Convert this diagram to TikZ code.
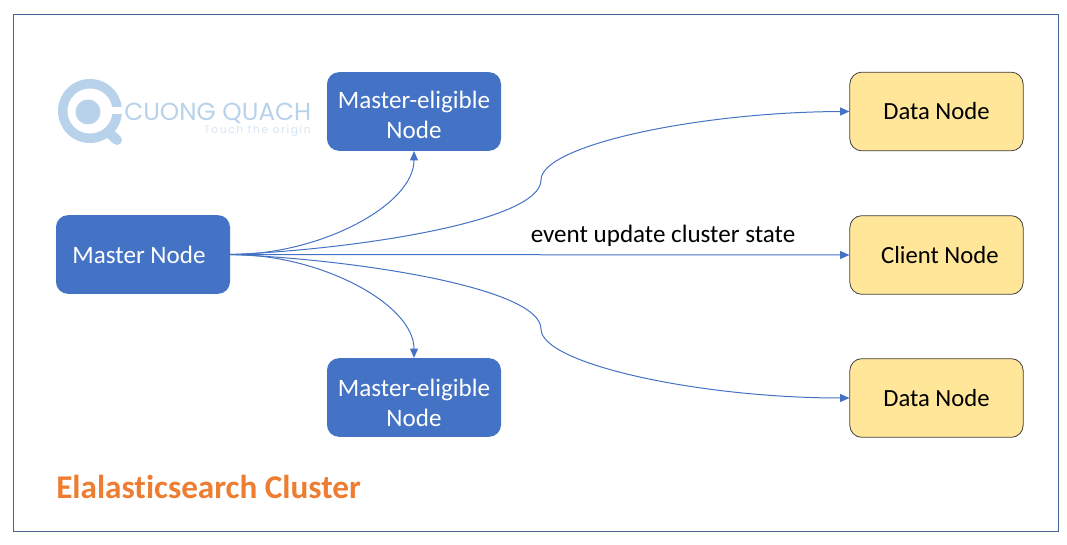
\documentclass[tikz,border=0pt]{standalone}
\usepackage{fontspec}
\setmainfont[Ligatures=NoCommon]{Carlito}
\newfontfamily\logofont{Poppins}
\newfontfamily\tagfont[LetterSpace=15]{Poppins}
\usetikzlibrary{arrows.meta}
\definecolor{bluebox}{HTML}{4472C4}
\definecolor{yellowbox}{HTML}{FFE699}
\definecolor{logoblue}{HTML}{B7D2EA}
\definecolor{logotagblue}{HTML}{D5E4F2}
\definecolor{frameblue}{HTML}{44618F}
\definecolor{titleorange}{HTML}{ED7D31}
\newcommand\shifted[3]{\hspace*{#1}\raisebox{#2}[0pt][0pt]{\begin{tabular}{@{}c@{}}#3\end{tabular}}}
\tikzset{
  bluenode/.style={fill=bluebox,rounded corners=9pt,minimum width=130.5pt,minimum height=59pt,text=white,font=\fontsize{18.8}{22.5}\selectfont,align=center,inner sep=0pt},
  yellownode/.style={fill=yellowbox,draw=black!75,line width=0.6pt,rounded corners=9pt,minimum width=130pt,minimum height=59pt,text=black,font=\fontsize{18.5}{22.5}\selectfont,align=center,inner sep=0pt},
  link/.style={draw=bluebox,line width=0.75pt,-{Triangle[length=7pt,width=6pt]}}
}
\begin{document}
\begin{tikzpicture}[x=0.75pt,y=-0.75pt]
\useasboundingbox (0,0) rectangle (1067,545);
\draw[frameblue,line width=0.75pt] (13,15) rectangle (1058,531);
% logo
\draw[logoblue,line width=7.5pt,line cap=round] (108,132) -- (117,140);
\fill[logoblue] (90,111) circle (32);
\fill[white] (90,111) circle (22.5);
\fill[logoblue] (88,112) circle (12.5);
\fill[white] (102,107) rectangle (123,114.5);
\node[text=logoblue,font=\logofont\fontsize{18.5}{20}\selectfont,anchor=west,inner sep=0pt,text height=13pt,text depth=0pt] (logotext) at (124,111.5) {CUONG QUACH};
\node[text=logotagblue,font=\tagfont\fontsize{8}{10}\selectfont,anchor=east,inner sep=0pt,text height=6pt,text depth=0pt] (logotag) at (311,130) {Touch the origin};
% nodes
\node[bluenode] (master) at (143,254.5) {\shifted{-6pt}{-6.5pt}{Master Node}};
\node[bluenode] (me1) at (414,111.5) {\shifted{0pt}{-8.8pt}{Master-eligible\\Node}};
\node[bluenode] (me2) at (414,397.5) {\shifted{0pt}{-10.3pt}{Master-eligible\\Node}};
\node[yellownode] (d1) at (936.5,111.5) {Data Node};
\node[yellownode] (c) at (936.5,255) {\hspace{5pt}Client Node};
\node[yellownode] (d2) at (936.5,398) {Data Node};
\node[font=\fontsize{18.8}{22}\selectfont,text=black,inner sep=0pt] (evt) at (663,235.5) {event update cluster state};
\node[font=\bfseries\fontsize{24.9}{28}\selectfont,text=titleorange,anchor=west,inner sep=0pt] (title) at (56,487) {Elalasticsearch Cluster};
% connectors
\draw[link] (master.east) .. controls (320,255) and (414,205) .. (me1.south);
\draw[link] (master.east) .. controls (320,254) and (414,304) .. (me2.north);
\draw[link] (master.east) .. controls (350,250) and (541,222) .. (541,180) .. controls (541,145) and (700,112) .. (d1.west);
\draw[link] (master.east) -- (c.west);
\draw[link] (master.east) .. controls (350,259) and (541,287) .. (541,329) .. controls (541,364) and (700,398) .. (d2.west);
\end{tikzpicture}
\end{document}
